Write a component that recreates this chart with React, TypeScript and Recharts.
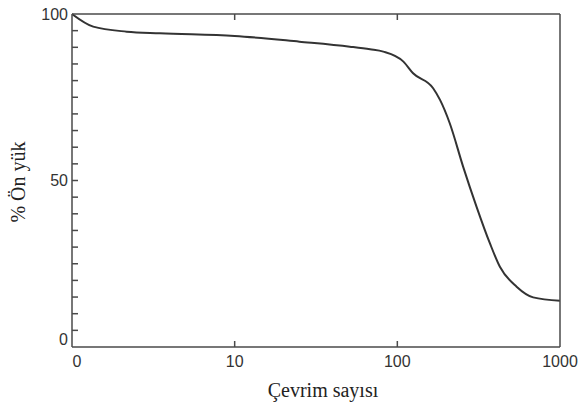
import { Line, LineChart, XAxis, YAxis } from 'recharts';

// cycle count (log axis, first tick "0" sits at 1) and % preload remaining
const cycles = [1, 1.35, 2.17, 3.47, 10, 25, 51, 68, 82, 109, 125, 166, 183, 210, 254, 307, 371, 427, 541, 684, 1000];
const preload = [100, 96.2, 94.7, 94.2, 93.4, 91.7, 90.2, 89.4, 88.7, 85.7, 82.2, 77.7, 74.2, 67.2, 54.1, 42.1, 31.1, 24.1, 18.1, 14.9, 13.9];

const xTicks = [1, 10, 100, 1000];
const xTickLabels = ['0', '10', '100', '1000'];
const xInnerTicks = [10, 100];
const yTicks = [0, 5, 10, 15, 20, 25, 30, 35, 40, 45, 50, 55, 60, 65, 70, 75, 80, 85, 90, 95, 100];
const yLabelled = [0, 50, 100];

const data = cycles.map((c, i) => ({ cycle: c, preload: preload[i] }));

const AXIS = '#4a4a4a';
const TXT = '#333';
const NUM_FONT = '"Liberation Sans", Arial, sans-serif';
const SERIF = '"Liberation Serif", "Times New Roman", serif';

const BottomTick = (props: any) => {
  const { x, y, payload } = props;
  const i = xTicks.indexOf(payload.value);
  const axisY = y - 4;
  return (
    <g>
      {xInnerTicks.includes(payload.value) && (
        <path d={`M${x},${axisY}v-6`} stroke={AXIS} strokeWidth={1.5} fill="none" />
      )}
      <text x={i === 0 ? x + 5 : x} y={axisY + 20} textAnchor="middle" fontFamily={NUM_FONT} fontSize={16} fill={TXT}>
        {xTickLabels[i]}
      </text>
    </g>
  );
};

const TopTick = (props: any) => {
  const { x, y } = props;
  return <path d={`M${x},${y + 4}v6`} stroke={AXIS} strokeWidth={1.5} fill="none" />;
};

const LeftTick = (props: any) => {
  const { x, y, payload } = props;
  const v = payload.value;
  const axisX = x + 4;
  return (
    <g>
      {v !== 0 && v !== 100 && <path d={`M${axisX},${y}h6`} stroke={AXIS} strokeWidth={1.5} fill="none" />}
      {yLabelled.includes(v) && (
        <text x={axisX - 4} y={v === 0 ? y - 8 : y} dy="0.36em" textAnchor="end" fontFamily={NUM_FONT} fontSize={16} fill={TXT}>
          {v}
        </text>
      )}
    </g>
  );
};

const RightTick = (props: any) => {
  const { x, y, payload } = props;
  const v = payload.value;
  const len = v === 50 ? 10 : 6;
  return (
    <g>
      {v !== 0 && v !== 100 && <path d={`M${x - 4},${y}h${-len}`} stroke={AXIS} strokeWidth={1.5} fill="none" />}
    </g>
  );
};

export default function App() {
  return (
    <div style={{ position: 'absolute', left: 0, top: 0, width: 582, height: 407, background: '#fff' }}>
      <LineChart width={582} height={407} data={data} margin={{ top: 13, right: 21, bottom: 30, left: 32 }}>
        <XAxis
          xAxisId="b"
          dataKey="cycle"
          type="number"
          scale="log"
          domain={[1, 1000]}
          ticks={xTicks}
          allowDataOverflow
          height={30}
          interval={0}
          tickSize={0}
          tickMargin={4}
          tick={<BottomTick />}
          axisLine={{ stroke: AXIS, strokeWidth: 1.5 }}
        />
        <XAxis
          xAxisId="t"
          orientation="top"
          dataKey="cycle"
          type="number"
          scale="log"
          domain={[1, 1000]}
          ticks={xInnerTicks}
          allowDataOverflow
          height={1}
          interval={0}
          tickSize={0}
          tickMargin={4}
          tick={<TopTick />}
          axisLine={{ stroke: AXIS, strokeWidth: 1.5 }}
        />
        <YAxis
          yAxisId="l"
          domain={[0, 100]}
          ticks={yTicks}
          width={40}
          interval={0}
          tickSize={0}
          tickMargin={4}
          tick={<LeftTick />}
          axisLine={{ stroke: AXIS, strokeWidth: 1.5 }}
        />
        <YAxis
          yAxisId="r"
          orientation="right"
          domain={[0, 100]}
          ticks={yTicks}
          width={1}
          interval={0}
          tickSize={0}
          tickMargin={4}
          tick={<RightTick />}
          axisLine={{ stroke: AXIS, strokeWidth: 1.5 }}
        />
        <Line
          xAxisId="b"
          yAxisId="l"
          type="monotone"
          dataKey="preload"
          stroke="#333"
          strokeWidth={2}
          dot={false}
          isAnimationActive={false}
        />
      </LineChart>
      <svg width={582} height={407} style={{ position: 'absolute', left: 0, top: 0, pointerEvents: 'none' }}>
        <text x={323} y={397} textAnchor="middle" fontFamily={SERIF} fontSize={20} fill="#222">
          Çevrim sayısı
        </text>
        <text transform="translate(25,182) rotate(-90)" textAnchor="middle" fontFamily={SERIF} fontSize={20} fill="#222">
          % Ön yük
        </text>
      </svg>
    </div>
  );
}
